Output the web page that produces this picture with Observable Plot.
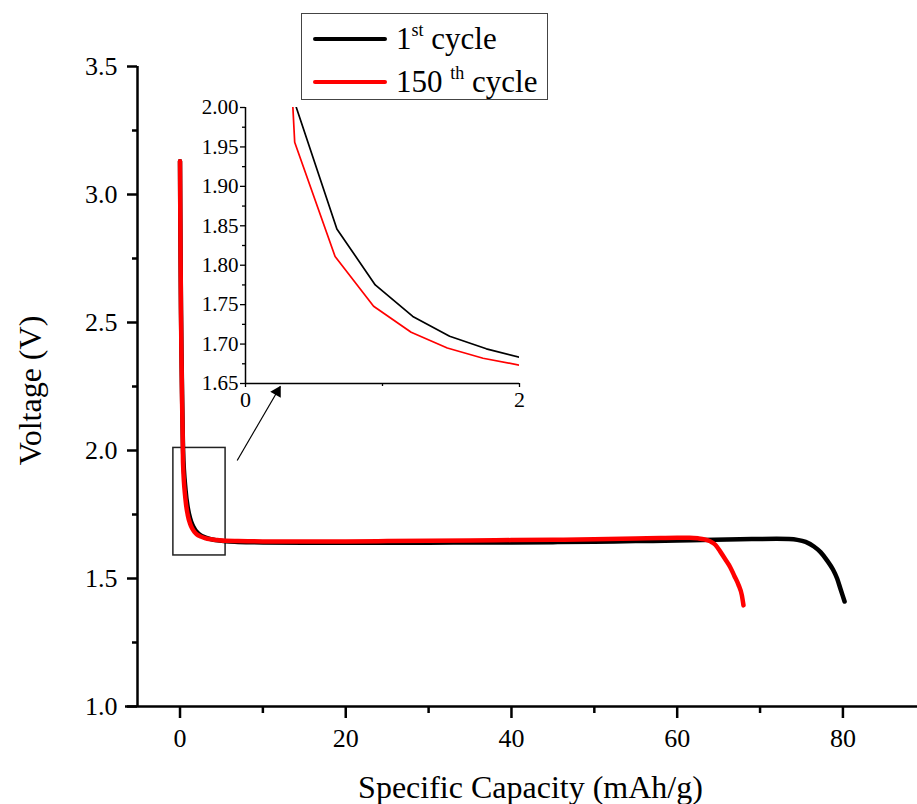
<!DOCTYPE html>
<html>
<head>
<meta charset="utf-8">
<script src="https://cdn.jsdelivr.net/npm/d3@7"></script>
<script src="https://cdn.jsdelivr.net/npm/@observablehq/plot@0.6"></script>
<style>
  body { margin: 0; background: #fff; }
  #wrap { position: relative; width: 917px; height: 804px; font-family: "Liberation Serif", "Times New Roman", Times, serif; }
  #wrap > svg { position: absolute; left: 0; top: 0; }
  #legend { position: absolute; left: 301px; top: 13px; width: 245px; height: 85px; border: 1.5px solid #444; background: #fff; z-index: 5; }
  .sw { position: absolute; left: 10.5px; width: 74px; height: 4px; border-radius: 2px; }
  .lt { position: absolute; left: 94px; font-size: 31px; line-height: 30px; white-space: nowrap; color: #000; }
  .lt sup { font-size: 18px; vertical-align: 13px; line-height: 0; }
</style>
</head>
<body>
<div id="wrap">
  <div id="legend">
    <div class="sw" style="top:22.5px;background:#000"></div>
    <div class="lt" style="top:10px">1<sup>st</sup> cycle</div>
    <div class="sw" style="top:65.5px;background:#ff0000"></div>
    <div class="lt" style="top:53px">150 <sup>th</sup> cycle</div>
  </div>
</div>
<script>
// ---- data ----
const cap1 = [0, 0.03, 0.07, 0.12, 0.18, 0.25, 0.32, 0.371, 0.667, 0.947, 1.221, 1.49, 1.758, 2.03, 2.5, 3.0, 3.7, 4.5, 5.5, 7, 10, 15, 20, 25, 30, 35, 40, 45, 50, 55, 60, 63, 66, 69, 72, 73.5, 74.5, 75.5, 76.5, 77.3, 78.1, 78.8, 79.3, 79.7, 80.2];
const volt1 = [3.13, 2.95, 2.75, 2.55, 2.38, 2.22, 2.08, 2.0, 1.846, 1.775, 1.735, 1.71, 1.694, 1.682, 1.669, 1.661, 1.654, 1.649, 1.645, 1.643, 1.641, 1.640, 1.640, 1.640, 1.640, 1.641, 1.641, 1.642, 1.644, 1.646, 1.648, 1.650, 1.652, 1.654, 1.655, 1.654, 1.651, 1.643, 1.625, 1.603, 1.570, 1.535, 1.500, 1.460, 1.410];
const cap150 = [0, 0.03, 0.07, 0.12, 0.18, 0.25, 0.3, 0.34, 0.359, 0.654, 0.935, 1.209, 1.473, 1.734, 2.01, 2.5, 3.0, 3.7, 4.5, 5.5, 7, 10, 15, 20, 25, 30, 35, 40, 45, 50, 55, 58, 60, 61.5, 62.5, 63.3, 64, 64.6, 65.2, 65.8, 66.4, 66.9, 67.4, 67.8, 68.0];
const volt150 = [3.13, 2.95, 2.74, 2.53, 2.36, 2.19, 2.10, 2.02, 1.956, 1.811, 1.748, 1.715, 1.695, 1.682, 1.673, 1.664, 1.658, 1.653, 1.650, 1.647, 1.646, 1.645, 1.645, 1.645, 1.646, 1.647, 1.648, 1.650, 1.651, 1.653, 1.656, 1.658, 1.659, 1.659, 1.657, 1.653, 1.645, 1.632, 1.605, 1.575, 1.544, 1.51, 1.475, 1.435, 1.395];

const xMajor = [0, 20, 40, 60, 80];
const xMinor = [10, 30, 50, 70];
const yMajor = [1.0, 1.5, 2.0, 2.5, 3.0, 3.5];
const yMinor = [1.25, 1.75, 2.25, 2.75, 3.25];

const insetXMajor = [0, 2];
const insetXMinor = [1];
const insetYMajor = [1.65, 1.70, 1.75, 1.80, 1.85, 1.90, 1.95, 2.00];
const insetYMinor = [1.675, 1.725, 1.775, 1.825, 1.875, 1.925, 1.975];

// zoom box and arrow annotation (data units)
const zoomBox = [{x1: -0.8, x2: 5.5, y1: 1.59, y2: 2.01}];
const arrowLink = [{x1: 6.9, y1: 1.961, x2: 12.1, y2: 2.25}];

// ---- build ----
const W = 917, H = 804;
const xDomain = [-5.13, 89];
const yDomain = [1.0, 3.5];
const mL = 137, mR = 0, mT = 66, mB = 98;
const font = '"Liberation Serif", "Times New Roman", Times, serif';

const d1 = cap1.map((x, i) => ({x, y: volt1[i]}));
const d150 = cap150.map((x, i) => ({x, y: volt150[i]}));

// arrow head orientation in pixels
const kx = (W - mL - mR) / (xDomain[1] - xDomain[0]);
const ky = (H - mT - mB) / (yDomain[1] - yDomain[0]);
const a = arrowLink[0];
const pdx = (a.x2 - a.x1) * kx, pdy = -(a.y2 - a.y1) * ky;
const plen = Math.hypot(pdx, pdy);
const theta = Math.atan2(pdx, -pdy) * 180 / Math.PI;
const back = 6;
const hdx = -pdx / plen * back, hdy = -pdy / plen * back;

const main = Plot.plot({
  width: W, height: H,
  marginLeft: mL, marginRight: mR, marginTop: mT, marginBottom: mB,
  x: {domain: xDomain},
  y: {domain: yDomain},
  style: {fontFamily: font, fontSize: "26px", color: "#000", background: "transparent", overflow: "visible"},
  marks: [
    Plot.axisY({ticks: yMajor, anchor: "left", tickSize: 10, tickPadding: 10, tickFormat: d3.format(".1f"), strokeWidth: 2.5, fontSize: 26, label: null}),
    Plot.axisY({ticks: yMinor, anchor: "left", tickSize: 5, tickFormat: () => "", strokeWidth: 2.5, label: null}),
    Plot.axisX({ticks: xMajor, anchor: "bottom", tickSize: 12, tickPadding: 10, tickFormat: d3.format("d"), strokeWidth: 2.5, fontSize: 26, label: null}),
    Plot.axisX({ticks: xMinor, anchor: "bottom", tickSize: 7, tickFormat: () => "", strokeWidth: 2.5, label: null}),
    Plot.ruleX([xDomain[0]], {stroke: "#000", strokeWidth: 2.5}),
    Plot.ruleY([yDomain[0]], {stroke: "#000", strokeWidth: 2.5, insetLeft: -12}),
    Plot.rect(zoomBox, {x1: "x1", x2: "x2", y1: "y1", y2: "y2", fill: "none", stroke: "#222", strokeWidth: 1.5}),
    Plot.link(arrowLink, {x1: "x1", y1: "y1", x2: "x2", y2: "y2", stroke: "#000", strokeWidth: 1.2}),
    Plot.dot(arrowLink, {x: "x2", y: "y2", symbol: "triangle", r: 4.5, fill: "#000", stroke: "none", rotate: theta, dx: hdx, dy: hdy}),
    Plot.line(d1, {x: "x", y: "y", stroke: "#000", strokeWidth: 4.5, curve: "monotone-x", strokeLinecap: "round", strokeLinejoin: "round"}),
    Plot.line(d150, {x: "x", y: "y", stroke: "#ff0000", strokeWidth: 4.5, curve: "monotone-x", strokeLinecap: "round", strokeLinejoin: "round"}),
    Plot.text(["Specific Capacity (mAh/g)"], {text: d => d, frameAnchor: "bottom", textAnchor: "middle", lineAnchor: "middle", dx: 3, dy: 81, fontSize: 32, fill: "#000"}),
    Plot.text(["Voltage (V)"], {text: d => d, frameAnchor: "left", textAnchor: "middle", lineAnchor: "middle", rotate: -90, dx: -107, dy: 4, fontSize: 32, fill: "#000"})
  ]
});

const inset = Plot.plot({
  width: W, height: H,
  marginLeft: 245, marginRight: 398, marginTop: 107, marginBottom: 421,
  x: {domain: [0, 2]},
  y: {domain: [1.65, 2.0]},
  style: {fontFamily: font, fontSize: "21px", color: "#000", background: "transparent", overflow: "visible", pointerEvents: "none"},
  marks: [
    Plot.axisY({ticks: insetYMajor, anchor: "left", tickSize: 5, tickPadding: 2, tickFormat: d3.format(".2f"), strokeWidth: 1.3, fontSize: 21, label: null}),
    Plot.axisY({ticks: insetYMinor, anchor: "left", tickSize: 3, tickFormat: () => "", strokeWidth: 1.3, label: null}),
    Plot.axisX({ticks: insetXMajor, anchor: "bottom", tickSize: 4, tickPadding: 4, tickFormat: d3.format("d"), strokeWidth: 1.3, fontSize: 22, label: null}),
    Plot.axisX({ticks: insetXMinor, anchor: "bottom", tickSize: 3, tickFormat: () => "", strokeWidth: 1.3, label: null}),
    Plot.ruleX([0], {stroke: "#000", strokeWidth: 1.5}),
    Plot.ruleY([1.65], {stroke: "#000", strokeWidth: 1.5}),
    Plot.line(d1, {x: "x", y: "y", stroke: "#000", strokeWidth: 1.7, clip: true}),
    Plot.line(d150, {x: "x", y: "y", stroke: "#ff0000", strokeWidth: 1.7, clip: true})
  ]
});

const wrap = document.getElementById("wrap");
wrap.insertBefore(inset, wrap.firstChild);
wrap.insertBefore(main, wrap.firstChild);
</script>
</body>
</html>
